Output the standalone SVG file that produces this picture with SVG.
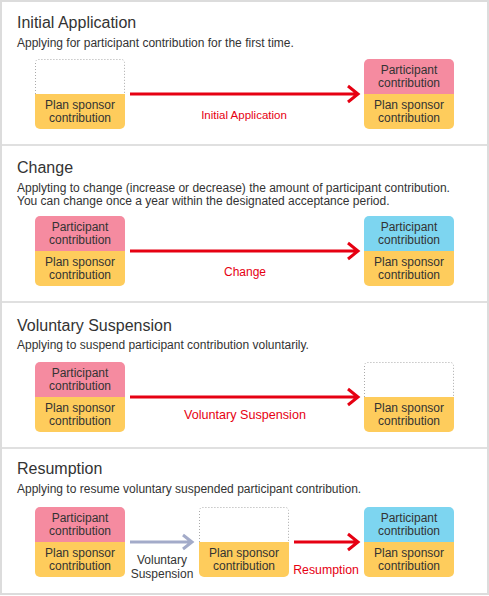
<svg xmlns="http://www.w3.org/2000/svg" xmlns:xlink="http://www.w3.org/1999/xlink" width="489" height="596" viewBox="0 0 489 596">
<defs>
<style>
.title{font-family:"Liberation Sans",Arial,sans-serif;font-size:16px;fill:#333}
.sub{font-family:"Liberation Sans",Arial,sans-serif;font-size:12px;fill:#333}
.bt{font-family:"Liberation Sans",Arial,sans-serif;font-size:12px;fill:#333;text-anchor:middle}
.lbl{font-family:"Liberation Sans",Arial,sans-serif;font-size:12.3px;fill:#e60012;text-anchor:middle}
.glbl{font-family:"Liberation Sans",Arial,sans-serif;font-size:12px;fill:#333;text-anchor:middle}
.pink{fill:#f58ba0}
.yel{fill:#fecc5c}
.blue{fill:#7dd5f0}
.dot{fill:none;stroke:#aaa;stroke-width:1;stroke-dasharray:1 2}
.div{stroke:#e0e0e0;stroke-width:2}
.red{fill:none;stroke:#e60012;stroke-width:3}
.grey{fill:none;stroke:#a3abc9;stroke-width:3}
</style>
<path id="top" d="M0,35V5a5,5 0 0 1 5,-5h80a5,5 0 0 1 5,5v30z"/>
<path id="bot" d="M0,35h90v30a5,5 0 0 1 -5,5h-80a5,5 0 0 1 -5,-5z"/>
<path id="empty" d="M0.5,35V3.5a3,3 0 0 1 3,-3h83a3,3 0 0 1 3,3V35"/>
</defs>
<rect x="0" y="0" width="489" height="596" fill="#fff"/>
<rect x="1" y="1" width="487" height="593" fill="none" stroke="#dcdcdc" stroke-width="2"/>
<g id="dividers">
<line class="div" x1="2" y1="145" x2="487" y2="145"/>
<line class="div" x1="2" y1="302" x2="487" y2="302"/>
<line class="div" x1="2" y1="448" x2="487" y2="448"/>
</g>
<g id="headings">
<text class="title" x="17" y="28">Initial Application</text>
<text class="sub" x="17" y="47">Applying for participant contribution for the first time.</text>
<text class="title" x="17" y="173">Change</text>
<text class="sub" x="17" y="192">Applyting to change (increase or decrease) the amount of participant contribution.</text>
<text class="sub" x="17" y="205">You can change once a year within the designated acceptance period.</text>
<text class="title" x="17" y="331">Voluntary Suspension</text>
<text class="sub" x="17" y="349">Applying to suspend participant contribution voluntarily.</text>
<text class="title" x="17" y="474">Resumption</text>
<text class="sub" x="17" y="493">Applying to resume voluntary suspended participant contribution.</text>
</g>
<g id="connectors">
<path class="red" d="M130,94H357M348,86L358,94L348,102"/>
<text class="lbl" x="244" y="119" style="font-size:11.5px">Initial Application</text>
<path class="red" d="M130,251H357M348,243L358,251L348,259"/>
<text class="lbl" x="245" y="276" style="font-size:12px">Change</text>
<path class="red" d="M130,397H357M348,389L358,397L348,405"/>
<text class="lbl" x="245" y="419" style="font-size:12.6px">Voluntary Suspension</text>
<path class="grey" d="M130,542H191M183,535L192,542L183,549"/>
<text class="glbl" x="162" y="564">Voluntary</text>
<text class="glbl" x="162" y="577.5">Suspension</text>
<path class="red" d="M294,542H357M348,534L358,542L348,550"/>
<text class="lbl" x="326" y="574">Resumption</text>
</g>
<g id="s1-before" transform="translate(35,59)">
<use xlink:href="#empty" class="dot"/>
<use xlink:href="#bot" class="yel"/>
<text class="bt" x="45" y="49.8">Plan sponsor</text>
<text class="bt" x="45" y="62.8">contribution</text>
</g>
<g id="s1-after" transform="translate(364,59)">
<use xlink:href="#top" class="pink"/>
<use xlink:href="#bot" class="yel"/>
<text class="bt" x="45" y="15.3">Participant</text>
<text class="bt" x="45" y="28.3">contribution</text>
<text class="bt" x="45" y="49.8">Plan sponsor</text>
<text class="bt" x="45" y="62.8">contribution</text>
</g>
<g id="s2-before" transform="translate(35,216)">
<use xlink:href="#top" class="pink"/>
<use xlink:href="#bot" class="yel"/>
<text class="bt" x="45" y="15.3">Participant</text>
<text class="bt" x="45" y="28.3">contribution</text>
<text class="bt" x="45" y="49.8">Plan sponsor</text>
<text class="bt" x="45" y="62.8">contribution</text>
</g>
<g id="s2-after" transform="translate(364,216)">
<use xlink:href="#top" class="blue"/>
<use xlink:href="#bot" class="yel"/>
<text class="bt" x="45" y="15.3">Participant</text>
<text class="bt" x="45" y="28.3">contribution</text>
<text class="bt" x="45" y="49.8">Plan sponsor</text>
<text class="bt" x="45" y="62.8">contribution</text>
</g>
<g id="s3-before" transform="translate(35,362)">
<use xlink:href="#top" class="pink"/>
<use xlink:href="#bot" class="yel"/>
<text class="bt" x="45" y="15.3">Participant</text>
<text class="bt" x="45" y="28.3">contribution</text>
<text class="bt" x="45" y="49.8">Plan sponsor</text>
<text class="bt" x="45" y="62.8">contribution</text>
</g>
<g id="s3-after" transform="translate(364,362)">
<use xlink:href="#empty" class="dot"/>
<use xlink:href="#bot" class="yel"/>
<text class="bt" x="45" y="49.8">Plan sponsor</text>
<text class="bt" x="45" y="62.8">contribution</text>
</g>
<g id="s4-start" transform="translate(35,507)">
<use xlink:href="#top" class="pink"/>
<use xlink:href="#bot" class="yel"/>
<text class="bt" x="45" y="15.3">Participant</text>
<text class="bt" x="45" y="28.3">contribution</text>
<text class="bt" x="45" y="49.8">Plan sponsor</text>
<text class="bt" x="45" y="62.8">contribution</text>
</g>
<g id="s4-suspended" transform="translate(199,507)">
<use xlink:href="#empty" class="dot"/>
<use xlink:href="#bot" class="yel"/>
<text class="bt" x="45" y="49.8">Plan sponsor</text>
<text class="bt" x="45" y="62.8">contribution</text>
</g>
<g id="s4-resumed" transform="translate(364,507)">
<use xlink:href="#top" class="blue"/>
<use xlink:href="#bot" class="yel"/>
<text class="bt" x="45" y="15.3">Participant</text>
<text class="bt" x="45" y="28.3">contribution</text>
<text class="bt" x="45" y="49.8">Plan sponsor</text>
<text class="bt" x="45" y="62.8">contribution</text>
</g>
</svg>
